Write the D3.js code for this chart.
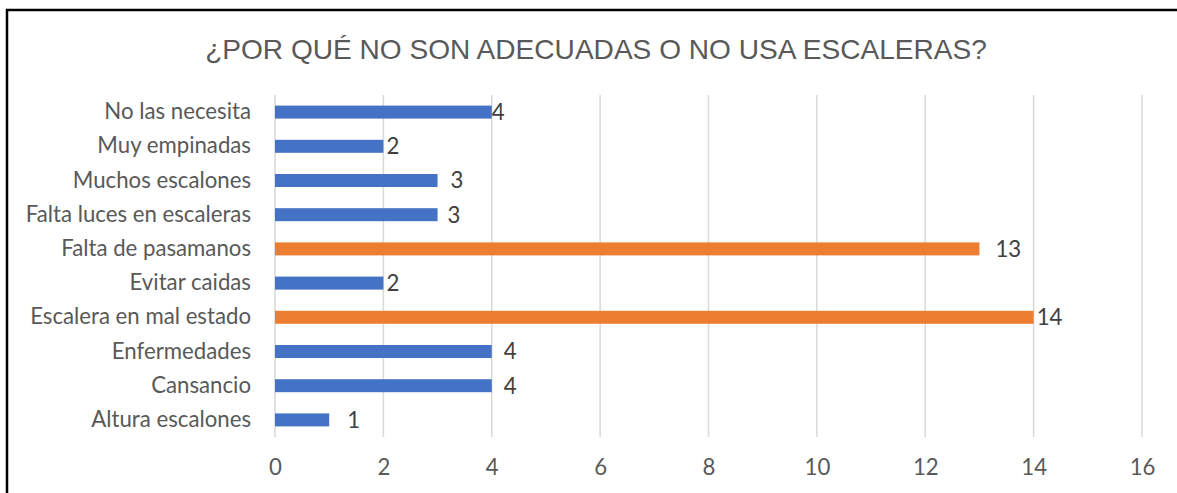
<!DOCTYPE html>
<html><head><meta charset="utf-8">
<script src="https://cdn.jsdelivr.net/npm/d3@7"></script>
<style>body{margin:0;background:#fff}svg{display:block}</style>
</head><body>
<svg id="c" width="1177" height="493"></svg>
<script>
const title = "¿POR QUÉ NO SON ADECUADAS O NO USA ESCALERAS?";
const categories = ["No las necesita","Muy empinadas","Muchos escalones","Falta luces en escaleras","Falta de pasamanos","Evitar caidas","Escalera en mal estado","Enfermedades","Cansancio","Altura escalones"];
const values = [4,2,3,3,13,2,14,4,4,1];
const barColors = ["#4472C4","#4472C4","#4472C4","#4472C4","#ED7D31","#4472C4","#ED7D31","#4472C4","#4472C4","#4472C4"];
const labelNudge = [0,3,13,10,16,3,3,12,12,18];
const xTicks = [0,2,4,6,8,10,12,14,16];

const svg = d3.select("#c");
const W = 1177, H = 493;
const m = {left:275, right:W-1142, top:95, bottom:H-437};
const font = "Lato, 'Noto Sans', sans-serif";
const txt = "#595959";

svg.append("rect").attr("x",7).attr("y",10).attr("width",1200).attr("height",520)
  .attr("fill","#fff").attr("stroke","#000").attr("stroke-width",2.5);

const x = d3.scaleLinear().domain([0,16]).range([m.left, W-m.right]);
const y = d3.scaleBand().domain(categories).range([m.top, H-m.bottom]).paddingInner(0.62).paddingOuter(0.31);

// gridlines
svg.append("g").selectAll("line").data(xTicks).join("line")
  .attr("x1",d=>x(d)).attr("x2",d=>x(d)).attr("y1",m.top).attr("y2",H-m.bottom)
  .attr("stroke","#D9D9D9").attr("stroke-width",1.5);

// title
const t = svg.append("text").attr("x",596).attr("y",59).attr("text-anchor","middle")
  .attr("font-family","'Liberation Sans', Arial, sans-serif").attr("fill",txt).text(title);
t.attr("font-size",28);
const tw = t.node().getComputedTextLength();
t.attr("font-size", 28*782/tw);

// measure category font size
const probe = svg.append("text").attr("font-family",font).attr("font-size",20).text("Escalera en mal estado");
const fs = 20*221/probe.node().getComputedTextLength();
probe.remove();

// bars
svg.append("g").selectAll("rect").data(categories).join("rect")
  .attr("x",x(0)).attr("y",d=>y(d)).attr("height",y.bandwidth())
  .attr("width",(d,i)=>x(values[i])-x(0)).attr("fill",(d,i)=>barColors[i]);

// y labels
const yAxis = d3.axisLeft(y).tickSize(0).tickPadding(24);
const ga = svg.append("g").attr("transform",`translate(${m.left},0)`).call(yAxis);
ga.select(".domain").remove();
ga.selectAll("text").attr("font-family",font).attr("font-size",fs).attr("fill",txt);

// x axis labels
const xAxis = d3.axisBottom(x).tickValues(xTicks).tickSize(0).tickPadding(22);
const gx = svg.append("g").attr("transform",`translate(0,${H-m.bottom})`).call(xAxis);
gx.select(".domain").remove();
gx.selectAll("text").attr("font-family",font).attr("font-size",fs).attr("fill",txt);

// data labels
svg.append("g").selectAll("text").data(categories).join("text")
  .attr("x",(d,i)=>x(values[i])+labelNudge[i]).attr("y",d=>y(d)+y.bandwidth()/2)
  .attr("dy","0.36em").attr("font-family",font).attr("font-size",fs).attr("fill","#404040")
  .text((d,i)=>values[i]);
</script>
</body></html>
